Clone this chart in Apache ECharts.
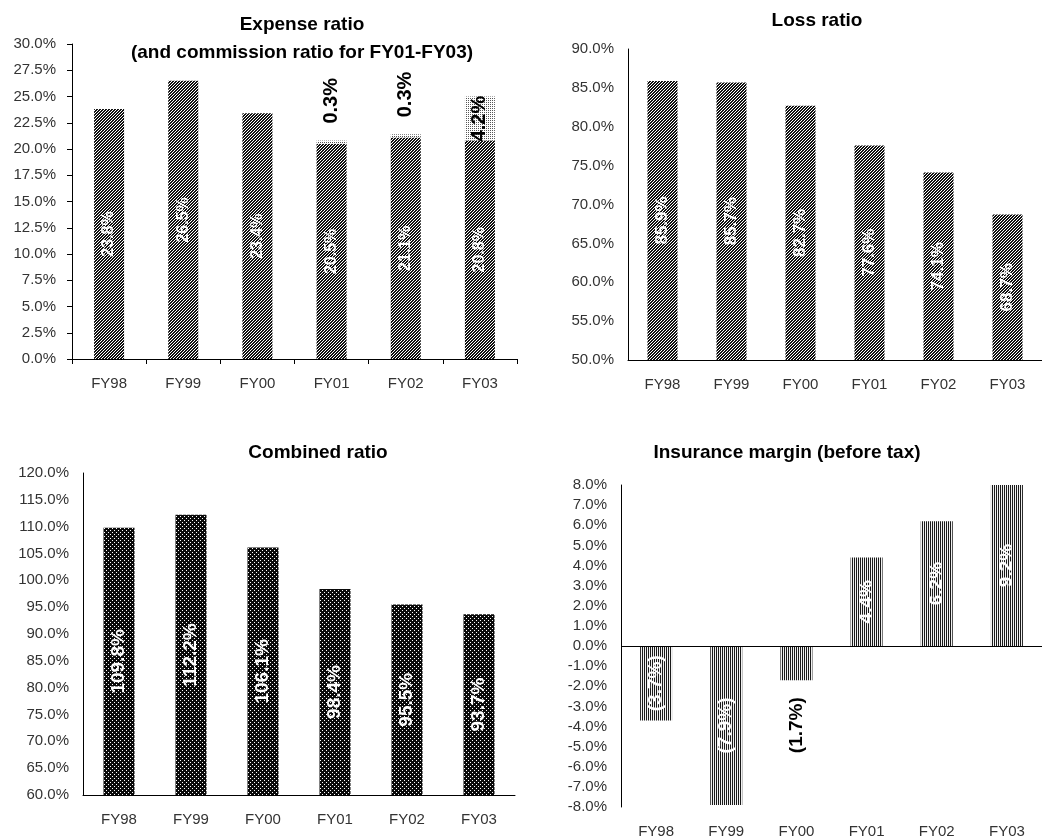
<!DOCTYPE html>
<html>
<head>
<meta charset="utf-8">
<title>Ratios FY98-FY03</title>
<script src="https://cdn.jsdelivr.net/npm/echarts@6/dist/echarts.min.js"></script>
<style>
  html, body { margin: 0; padding: 0; background: #fff; }
  #chart { width: 1042px; height: 840px; }
</style>
</head>
<body>
<div id="chart"></div>
<script>
// ---- data ----
const years = ['FY98', 'FY99', 'FY00', 'FY01', 'FY02', 'FY03'];
const expenseRatio = [23.8, 26.5, 23.4, 20.5, 21.1, 20.8];
const commissionRatio = [null, null, null, 0.3, 0.3, 4.2];
const lossRatio = [85.9, 85.7, 82.7, 77.6, 74.1, 68.7];
const combinedRatio = [109.8, 112.2, 106.1, 98.4, 95.5, 93.7];
const insuranceMargin = [-3.7, -7.9, -1.7, 4.4, 6.2, 9.2];

const titles = [
  'Expense ratio\n(and commission ratio for FY01-FY03)',
  'Loss ratio',
  'Combined ratio',
  'Insurance margin (before tax)'
];

// ---- bar fill textures ----
function makePattern(size, bg, fg, isOn) {
  const c = document.createElement('canvas');
  c.width = size; c.height = size;
  const ctx = c.getContext('2d');
  ctx.fillStyle = bg;
  ctx.fillRect(0, 0, size, size);
  ctx.fillStyle = fg;
  for (let y = 0; y < size; y++) {
    for (let x = 0; x < size; x++) {
      if (isOn(x, y)) ctx.fillRect(x, y, 1, 1);
    }
  }
  return { image: c, repeat: 'repeat' };
}
const diagHatch = makePattern(6, '#111', '#fff', (x, y) => (x + y) % 3 === 0);
const lightDots = makePattern(4, '#fff', '#555', (x, y) => (x % 2 === 0 && y % 2 === 0));
const darkDots = makePattern(4, '#0a0a0a', '#fff', (x, y) => (x === 0 && y === 0) || (x === 2 && y === 2));
const vStripes = makePattern(2, '#1a1a1a', '#f0f0f0', (x, y) => x === 1 && y === 0 || (x === 1 && y === 1));

const FONT = '"Liberation Sans", Arial, sans-serif';

const pct = v => v.toFixed(1) + '%';
const pctParen = v => v < 0 ? '(' + Math.abs(v).toFixed(1) + '%)' : v.toFixed(1) + '%';

function xAxisFor(gridIndex, opts) {
  return Object.assign({
    type: 'category',
    gridIndex: gridIndex,
    data: years,
    axisLine: { show: true, lineStyle: { color: '#000', width: 1 } },
    axisTick: { show: false },
    axisLabel: { color: '#333', fontFamily: FONT, fontSize: 15, margin: 17 },
    splitLine: { show: false }
  }, opts || {});
}

function yAxisFor(gridIndex, min, max, interval, opts) {
  return Object.assign({
    type: 'value',
    gridIndex: gridIndex,
    min: min, max: max, interval: interval,
    axisLine: { show: true, lineStyle: { color: '#000', width: 1 } },
    axisTick: { show: false },
    splitLine: { show: false },
    axisLabel: { color: '#333', fontFamily: FONT, fontSize: 15, margin: 14, formatter: pct }
  }, opts || {});
}

function insideLabel(size, color, fmt) {
  return {
    show: true,
    position: 'inside',
    rotate: 90,
    color: color,
    fontFamily: FONT,
    fontWeight: 'bold',
    fontSize: size,
    formatter: p => fmt(p.value)
  };
}

// commission labels: the thin FY01/FY02 slivers carry their label above, FY03 inside
const commissionData = commissionRatio.map((v, i) => {
  if (v == null) return '-';
  if (v < 1) {
    return {
      value: v,
      label: { position: 'top', align: 'left', verticalAlign: 'middle', distance: 17 }
    };
  }
  return { value: v, label: { position: 'inside' } };
});

// FY00 margin is too short to hold its label: place it below the bar in black
const marginData = insuranceMargin.map((v, i) => {
  if (v < 0 && v > -2) {
    return {
      value: v,
      label: { position: 'outside', align: 'right', verticalAlign: 'middle', distance: 17, color: '#000' }
    };
  }
  return v;
});

const option = {
  backgroundColor: '#fff',
  animation: false,
  title: [
    { text: titles[0], left: 302, top: 11, textAlign: 'center', padding: 0,
      textStyle: { fontFamily: FONT, fontWeight: 'bold', fontSize: 19, lineHeight: 28, color: '#000' } },
    { text: titles[1], left: 817, top: 9, textAlign: 'center', padding: 0,
      textStyle: { fontFamily: FONT, fontWeight: 'bold', fontSize: 19, lineHeight: 24, color: '#000' } },
    { text: titles[2], left: 318, top: 441, textAlign: 'center', padding: 0,
      textStyle: { fontFamily: FONT, fontWeight: 'bold', fontSize: 19, lineHeight: 24, color: '#000' } },
    { text: titles[3], left: 787, top: 441, textAlign: 'center', padding: 0,
      textStyle: { fontFamily: FONT, fontWeight: 'bold', fontSize: 19, lineHeight: 24, color: '#000' } }
  ],
  grid: [
    { left: 72, top: 44, width: 445, height: 315 },
    { left: 628, top: 49, width: 427, height: 311 },
    { left: 83, top: 473, width: 432, height: 322 },
    { left: 621, top: 485, width: 432, height: 322 }
  ],
  xAxis: [
    xAxisFor(0, { axisTick: { show: true, length: 5, lineStyle: { color: '#000' } } }),
    xAxisFor(1),
    xAxisFor(2),
    xAxisFor(3, { axisLine: { show: false, onZero: false }, position: 'bottom' })
  ],
  yAxis: [
    yAxisFor(0, 0, 30, 2.5, {
      axisTick: { show: true, length: 5, lineStyle: { color: '#000' } },
      axisLabel: { color: '#333', fontFamily: FONT, fontSize: 15, margin: 16, formatter: pct }
    }),
    yAxisFor(1, 50, 90, 5),
    yAxisFor(2, 60, 120, 5),
    yAxisFor(3, -8, 8, 1)
  ],
  series: [
    {
      name: 'Expense ratio', type: 'bar', xAxisIndex: 0, yAxisIndex: 0, stack: 'exp',
      barWidth: 30, data: expenseRatio,
      itemStyle: { color: diagHatch },
      label: insideLabel(16, '#fff', pct)
    },
    {
      name: 'Commission ratio', type: 'bar', xAxisIndex: 0, yAxisIndex: 0, stack: 'exp',
      barWidth: 30, data: commissionData,
      itemStyle: { color: lightDots },
      label: insideLabel(20, '#000', pct)
    },
    {
      name: 'Loss ratio', type: 'bar', xAxisIndex: 1, yAxisIndex: 1,
      barWidth: 30, data: lossRatio,
      itemStyle: { color: diagHatch },
      label: insideLabel(17, '#fff', pct)
    },
    {
      name: 'Combined ratio', type: 'bar', xAxisIndex: 2, yAxisIndex: 2,
      barWidth: 31, data: combinedRatio,
      itemStyle: { color: darkDots },
      label: insideLabel(19, '#fff', pct)
    },
    {
      name: 'Insurance margin', type: 'bar', xAxisIndex: 3, yAxisIndex: 3,
      barWidth: 32, data: marginData,
      itemStyle: { color: vStripes },
      label: insideLabel(19, '#fff', pctParen),
      markLine: {
        silent: true,
        symbol: 'none',
        label: { show: false },
        lineStyle: { color: '#000', width: 1, type: 'solid' },
        data: [{ yAxis: 0 }]
      }
    }
  ]
};

const chart = echarts.init(document.getElementById('chart'), null, { renderer: 'canvas' });
chart.setOption(option);
</script>
</body>
</html>
